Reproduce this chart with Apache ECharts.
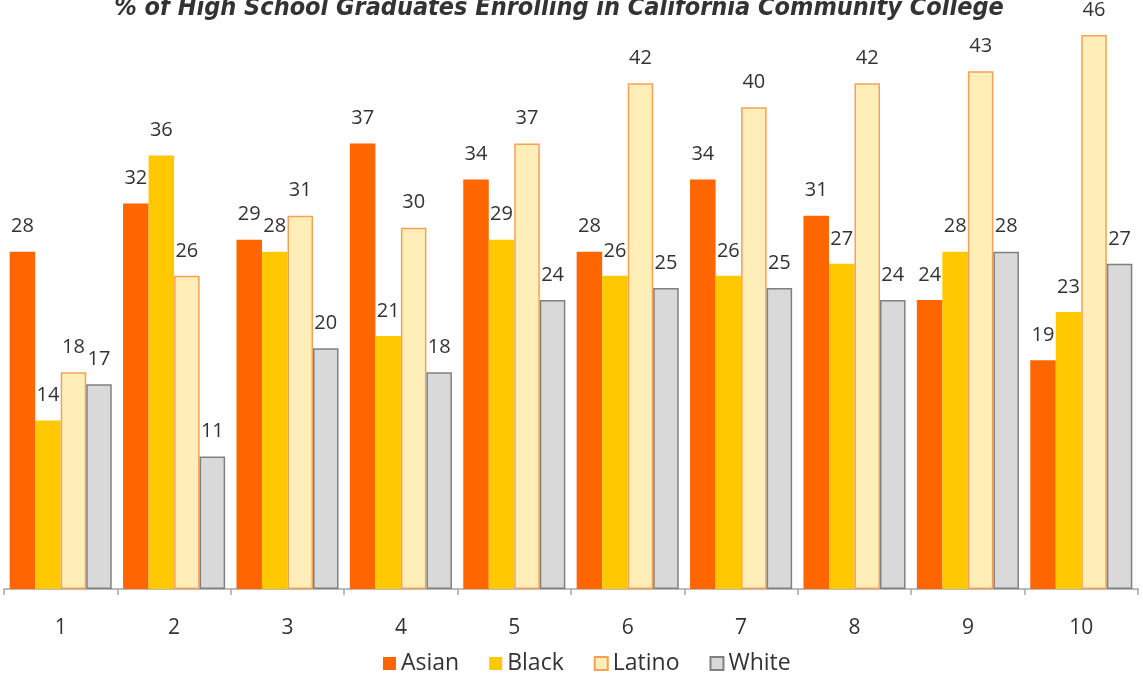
<!DOCTYPE html>
<html>
<head>
<meta charset="utf-8">
<script src="https://cdn.jsdelivr.net/npm/echarts@6/dist/echarts.min.js"></script>
<style>
  html, body { margin: 0; padding: 0; background: #fff; }
  #chart { width: 1143px; height: 673px; }
</style>
</head>
<body>
<div id="chart"></div>
<script>
// Share of high school graduates enrolling in a California community college, by group
const categories = ['1', '2', '3', '4', '5', '6', '7', '8', '9', '10'];
const asian  = [28, 32, 29, 37, 34, 28, 34, 31, 24, 19];
const black  = [14, 36, 28, 21, 29, 26, 26, 27, 28, 23];
const latino = [18, 26, 31, 30, 37, 42, 40, 42, 43, 46];
const white  = [17, 11, 20, 18, 24, 25, 25, 24, 28, 27];

const textColor = '#333333';
const font = 'Open Sans, sans-serif';
const labelStyle = {
  show: true,
  position: 'top',
  distance: 15,
  color: textColor,
  fontSize: 20,
  fontFamily: font
};

function barSeries(name, data, fill, border) {
  return {
    name: name,
    type: 'bar',
    data: data,
    barGap: '0%',
    barCategoryGap: '10%',
    itemStyle: {
      color: fill,
      borderColor: border || fill,
      borderWidth: border ? 1.5 : 0
    },
    label: labelStyle
  };
}

const chart = echarts.init(document.getElementById('chart'), null, { renderer: 'canvas' });
chart.setOption({
  animation: false,
  backgroundColor: '#ffffff',
  title: {
    text: '% of High School Graduates Enrolling in California Community College',
    left: 554,
    textAlign: 'center',
    top: -9,
    textStyle: {
      color: textColor,
      fontSize: 25,
      fontStyle: 'italic',
      fontWeight: 'bold',
      fontFamily: 'DejaVu Sans Condensed, sans-serif'
    }
  },
  legend: {
    top: 647,
    left: 378,
    itemWidth: 13,
    itemHeight: 13,
    itemGap: 30,
    itemTextGap: 8,
    icon: 'rect',
    textStyle: { color: textColor, fontSize: 23, fontFamily: font },
    data: ['Asian', 'Black', 'Latino', 'White']
  },
  grid: { left: 4, right: 5, top: 35, bottom: 84, containLabel: false },
  xAxis: {
    type: 'category',
    data: categories,
    axisLine: { lineStyle: { color: '#a6a6a6', width: 1.5 } },
    axisTick: { show: true, length: 6, lineStyle: { color: '#a6a6a6', width: 1.5 } },
    axisLabel: { color: textColor, fontSize: 21, margin: 29, fontFamily: font }
  },
  yAxis: {
    type: 'value',
    min: 0,
    max: 46,
    show: false,
    splitLine: { show: false }
  },
  series: [
    barSeries('Asian', asian, '#ff6600'),
    barSeries('Black', black, '#ffc800'),
    barSeries('Latino', latino, '#ffeeb8', '#f5a255'),
    barSeries('White', white, '#d9d9d9', '#808080')
  ]
});
</script>
</body>
</html>
